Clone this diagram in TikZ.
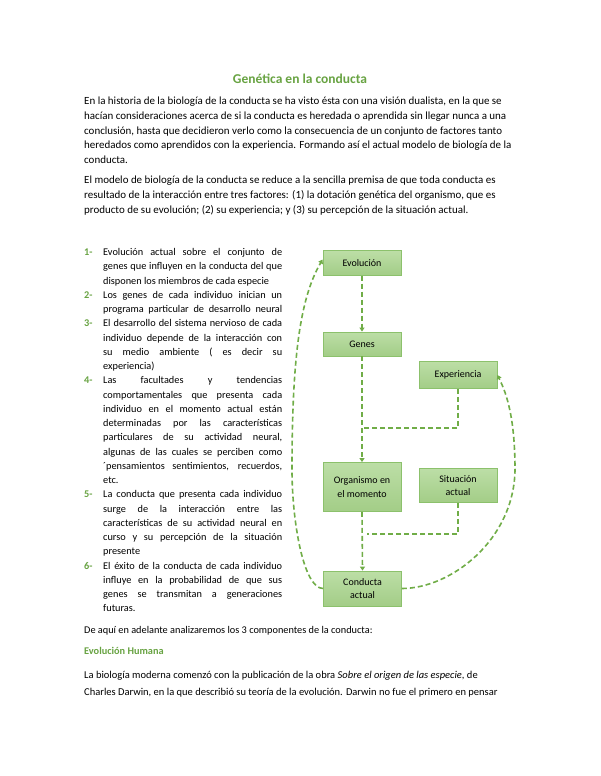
\documentclass[tikz,border=0pt]{standalone}
\usepackage{fontspec}
\setmainfont{Carlito}
\usetikzlibrary{arrows.meta}
\definecolor{verde}{RGB}{112,173,71}
\definecolor{verdeosc}{RGB}{104,163,66}
\definecolor{borde}{RGB}{140,193,108}
\definecolor{rellarr}{RGB}{188,222,166}
\definecolor{rellab}{RGB}{163,205,135}
\tikzstyle{txt}=[anchor=west,inner sep=0pt,text height=7pt,text depth=2pt,font=\fontsize{10.3}{12}\selectfont]
\tikzstyle{txtg}=[txt,font=\fontsize{10.95}{13}\selectfont]
\tikzstyle{num}=[txt,text=verdeosc,font=\fontsize{10.3}{12}\selectfont\bfseries]
\tikzstyle{caja}=[draw=borde,line width=0.8pt,top color=rellarr,bottom color=rellab,minimum width=78pt,align=center,font=\fontsize{10}{13.5}\selectfont,inner sep=2pt]
\tikzstyle{linea}=[draw=verde,line width=1.6pt,dash pattern=on 5pt off 3pt]
\tikzstyle{flecha}=[linea,-{Triangle[length=4pt,width=5pt]}]
\newcommand{\just}[1]{\makebox[179pt][s]{#1}}

\begin{document}
\begin{tikzpicture}[x=1pt,y=-1pt]
\fill[white] (0,0) rectangle (600,776);
\path[use as bounding box] (0,0) rectangle (600,776);

\node[font=\fontsize{13.5}{16}\selectfont\bfseries,text=verdeosc] (titulo) at (300,79) {Genética en la conducta};

\foreach \lin [count=\i] in {
{En la historia de la biología de la conducta se ha visto ésta con una visión dualista, en la que se},
{hacían consideraciones acerca de si la conducta es heredada o aprendida sin llegar nunca a una},
{conclusión, hasta que decidieron verlo como la consecuencia de un conjunto de factores tanto},
{heredados como aprendidos con la experiencia. Formando así el actual modelo de biología de la},
{conducta.}}
\node[txtg] (pa\i) at (84,{102+14.75*(\i-1)}) {\lin};

\foreach \lin [count=\i] in {
{El modelo de biología de la conducta se reduce a la sencilla premisa de que toda conducta es},
{resultado de la interacción entre tres factores: (1) la dotación genética del organismo, que es},
{producto de su evolución; (2) su experiencia; y (3) su percepción de la situación actual.}}
\node[txtg] (pb\i) at (84,{181+15*(\i-1)}) {\lin};

\foreach \n/\k in {1/1,2/4,3/6,4/10,5/18,6/23}
\node[num] (n\n) at (84,{253+14.25*(\k-1)}) {\n-};

\foreach \lin [count=\i] in {
{\just{Evolución actual sobre el conjunto de}},
{\just{genes que influyen en la conducta del que}},
{disponen los miembros de cada especie},
{\just{Los genes de cada individuo inician un}},
{\just{programa particular de desarrollo neural}},
{\just{El desarrollo del sistema nervioso de cada}},
{\just{individuo depende de la interacción con}},
{\just{su medio ambiente ( es decir su}},
{experiencia)},
{\just{Las facultades y tendencias}},
{\just{comportamentales que presenta cada}},
{\just{individuo en el momento actual están}},
{\just{determinadas por las características}},
{\just{particulares de su actividad neural,}},
{\just{algunas de las cuales se perciben como}},
{\just{´pensamientos sentimientos, recuerdos,}},
{etc.},
{\just{La conducta que presenta cada individuo}},
{\just{surge de la interacción entre las}},
{\just{características de su actividad neural en}},
{\just{curso y su percepción de la situación}},
{presente},
{\just{El éxito de la conducta de cada individuo}},
{\just{influye en la probabilidad de  que sus}},
{\just{genes se transmitan a generaciones}},
{futuras.}}
\node[txt] (li\i) at (103,{253+14.25*(\i-1)}) {\lin};

\node[txt] (pc1) at (84,631) {De aquí en adelante analizaremos los 3 componentes de la conducta:};
\node[num] (sub) at (84,652) {Evolución Humana};
\node[txt,font=\fontsize{10.5}{12}\selectfont] (pd1) at (84,676) {La biología moderna comenzó con la publicación de la obra \textit{Sobre el origen de las especie}, de};
\node[txt,font=\fontsize{10.5}{12}\selectfont] (pd2) at (84,693) {Charles Darwin, en la que describió su teoría de la evolución. Darwin no fue el primero en pensar};

\node[caja,minimum height=24.5pt] (evo) at (362,263) {Evolución};
\node[caja,minimum height=24pt] (gen) at (362,344) {Genes};
\node[caja,minimum height=27pt] (exp) at (458,375) {Experiencia};
\node[caja,minimum height=49pt] (org) at (362,487) {Organismo en\\el momento};
\node[caja,minimum height=34pt] (sit) at (458,485.5) {Situación\\actual};
\node[caja,minimum height=35pt] (con) at (362.5,588.5) {Conducta\\actual};

\coordinate (j1) at (362,428);
\coordinate (j2) at (367,534);

\draw[flecha] (evo.south) -- (gen.north);
\draw[flecha] (gen.south) -- (org.north);
\draw[linea] (exp.south) |- (j1);
\draw[flecha] (org.south) -- (con.north);
\draw[linea] (sit.south) |- (j2);
\draw[flecha] (con.west) .. controls +(-20,0) and +(0,50) .. (292,470) .. controls +(0,-110) and +(-23,39) .. (evo.175);
\draw[flecha] (con.east) .. controls +(49,0) and +(-1,70) .. (515,470) .. controls +(0,-50) and +(10,20) .. (exp.east);
\end{tikzpicture}
\end{document}
